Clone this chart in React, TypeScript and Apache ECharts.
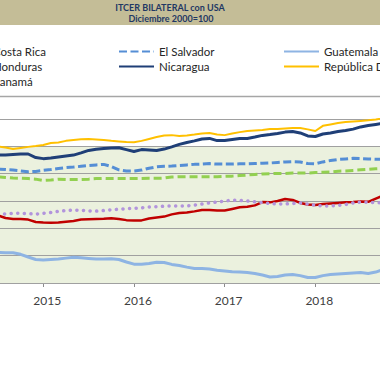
import React, { useEffect, useRef } from 'react';
import * as echarts from 'echarts';

// month index relative to January 2015 (0 = Jan 2015); data start in Jul 2014
const firstMonth = -6;

const costaRica = [94.7, 93.8, 93.4, 93.4, 93.2, 92.3, 92.1, 92.0, 92.1, 92.4, 92.7, 93.2, 93.3, 93.4, 93.5, 93.7, 93.4, 93.0, 92.9, 92.9, 93.6, 94.0, 94.3, 95.1, 95.6, 95.8, 96.2, 96.7, 96.7, 96.5, 96.5, 97.1, 97.7, 97.9, 98.4, 99.6, 99.5, 100.0, 100.7, 100.4, 99.3, 98.7, 98.5, 98.9, 99.1, 99.3, 99.5, 99.6, 99.8, 99.7, 100.9, 102.0];
const elSalvador = [111.7, 111.5, 111.3, 111.0, 110.7, 110.8, 111.2, 111.5, 111.9, 112.2, 112.4, 112.7, 113.0, 113.2, 113.4, 112.6, 111.4, 111.0, 111.0, 111.3, 112.0, 112.5, 112.7, 112.8, 113.0, 113.2, 113.4, 113.5, 113.7, 113.5, 113.5, 113.5, 113.6, 113.6, 113.7, 113.8, 113.9, 114.1, 114.3, 114.4, 114.3, 113.7, 113.6, 114.3, 114.8, 115.2, 115.4, 115.6, 115.5, 115.4, 115.3, 115.2];
const guatemala = [81.2, 81.1, 81.1, 80.5, 79.5, 78.6, 78.4, 78.6, 78.8, 79.1, 79.4, 79.2, 79.0, 78.8, 78.8, 78.9, 78.6, 77.7, 76.9, 76.9, 77.1, 77.6, 77.5, 76.8, 76.4, 75.8, 75.3, 75.3, 75.1, 74.7, 74.4, 74.1, 74.0, 73.8, 73.5, 72.9, 72.2, 72.4, 72.9, 73.1, 72.7, 72.0, 72.0, 72.7, 73.1, 73.3, 73.5, 73.7, 73.8, 73.5, 74.0, 74.9];
const honduras = [108.8, 108.6, 108.4, 108.3, 108.2, 108.0, 107.5, 107.7, 108.0, 107.9, 107.9, 107.9, 108.0, 108.2, 108.3, 108.2, 108.2, 108.2, 108.2, 108.2, 108.3, 108.3, 108.4, 108.8, 108.9, 108.9, 108.9, 108.9, 108.9, 108.9, 109.0, 109.1, 109.3, 109.5, 109.7, 109.9, 110.0, 110.1, 110.1, 110.2, 110.2, 110.2, 110.4, 110.5, 110.6, 110.9, 111.0, 111.2, 111.4, 111.6, 111.8, 111.9];
const nicaragua = [116.8, 116.8, 117.0, 117.2, 117.2, 115.9, 115.5, 115.7, 116.1, 116.5, 116.8, 117.6, 118.5, 118.9, 119.2, 119.4, 119.5, 118.8, 118.1, 118.8, 118.7, 118.5, 119.0, 119.8, 120.7, 121.4, 122.0, 122.7, 122.9, 122.1, 122.1, 122.5, 122.9, 122.9, 123.4, 124.0, 124.3, 124.7, 125.2, 125.4, 124.9, 123.8, 123.6, 124.5, 124.9, 125.4, 125.8, 126.3, 127.1, 127.6, 128.0, 128.4];
const repDominicana = [119.9, 119.6, 119.0, 119.4, 119.8, 120.1, 120.5, 121.2, 121.4, 122.0, 122.3, 122.6, 122.7, 122.5, 122.3, 122.0, 121.8, 121.6, 121.5, 122.0, 122.7, 123.4, 124.0, 124.1, 123.8, 124.0, 124.3, 124.7, 124.9, 124.3, 124.1, 124.7, 125.2, 125.6, 125.8, 126.0, 126.3, 126.3, 126.5, 126.7, 126.7, 126.2, 125.6, 127.5, 128.0, 128.5, 128.9, 129.1, 129.3, 129.5, 129.8, 130.3];
const panama = [95.2, 95.3, 95.5, 95.5, 95.4, 95.2, 95.5, 95.8, 96.2, 96.5, 96.7, 96.6, 96.4, 96.3, 96.5, 96.8, 97.0, 97.2, 97.3, 97.5, 97.8, 97.9, 98.1, 98.2, 98.2, 98.2, 98.5, 98.9, 99.3, 99.6, 100.0, 100.3, 100.2, 100.0, 99.7, 99.4, 99.1, 98.9, 98.9, 99.1, 99.3, 98.9, 98.4, 98.2, 98.2, 98.4, 98.7, 99.3, 99.6, 99.5, 99.4, 99.4];

const firstYear = 2015;
const titleLines = ['ITCER BILATERAL con USA', 'Diciembre 2000=100'];
const shadeRange = [70, 120];

const toPairs = (vals: number[]) => vals.map((v, i) => [firstMonth + i, v]);

export default function App() {
  const ref = useRef<HTMLDivElement>(null);
  useEffect(() => {
    if (!ref.current) return;
    const chart = echarts.init(ref.current, null, { renderer: 'svg' });
    const font = 'Lato';
    const mk = (name: string, data: number[], color: string, width: number, type: any = 'solid', cap: any = 'butt', extra: any = {}) => ({
      name,
      type: 'line',
      data: toPairs(data),
      symbol: 'none',
      showSymbol: false,
      z: 3,
      lineStyle: { color, width, type, cap },
      itemStyle: { color },
      ...extra,
    });
    const legendBase = {
      orient: 'vertical',
      top: 44,
      itemWidth: 35,
      itemHeight: 0.1,
      itemGap: 0,
      padding: 0,
      selectedMode: false,
      itemStyle: { opacity: 0 },
      textStyle: { fontFamily: font, fontSize: 11.5, color: '#262626', lineHeight: 15 },
    };
    chart.setOption({
      animation: false,
      backgroundColor: '#ffffff',
      graphic: [
        { type: 'rect', shape: { x: 0, y: 0, width: 380, height: 25 }, style: { fill: '#c4bd97' } },
        { type: 'text', x: 170, y: 7, style: { text: titleLines[0], font: `bold 9px ${font}`, fill: '#1f3864', align: 'center', verticalAlign: 'middle' } },
        { type: 'text', x: 171, y: 18.5, style: { text: titleLines[1], font: `bold 9px ${font}`, fill: '#1f3864', align: 'center', verticalAlign: 'middle' } },
        { type: 'line', shape: { x1: 0, y1: 96.5, x2: 380, y2: 96.5 }, style: { stroke: '#a6a6a6', lineWidth: 1.5 } },
      ],
      legend: [
        { ...legendBase, left: -48, data: ['Costa Rica', 'Honduras', 'Panamá'] },
        { ...legendBase, left: 118, data: ['El Salvador', 'Nicaragua'] },
        { ...legendBase, left: 283, data: ['Guatemala', 'República Dominicana'] },
      ],
      grid: { left: -47.4, right: -26, top: 119, bottom: 88, outerBoundsMode: 'none', containLabel: false },
      xAxis: {
        type: 'value',
        min: -12,
        max: 48,
        interval: 12,
        splitLine: { show: false },
        axisLine: { lineStyle: { color: '#8c8c8c', width: 1 } },
        axisTick: { length: 4, lineStyle: { color: '#8c8c8c' } },
        axisLabel: {
          formatter: (v: number) => String(firstYear + v / 12),
          showMinLabel: false,
          showMaxLabel: false,
          fontFamily: font,
          fontSize: 12,
          color: '#404040',
          margin: 11,
          padding: [0, 0, 0, 8],
        },
      },
      yAxis: {
        type: 'value',
        min: 70,
        max: 130,
        interval: 10,
        z: 2,
        axisLabel: { show: false },
        axisLine: { show: false },
        axisTick: { show: false },
        splitLine: { lineStyle: { color: '#a0a0a0', width: 1 } },
      },
      series: [
        mk('Costa Rica', costaRica, '#c00000', 2.5, 'solid', 'butt', {
          markArea: {
            silent: true,
            z: 1,
            itemStyle: { color: '#ebf1de' },
            data: [[{ yAxis: shadeRange[0] }, { yAxis: shadeRange[1] }]],
          },
        }),
        mk('El Salvador', elSalvador, '#558ed5', 3, [8, 3.5]),
        mk('Guatemala', guatemala, '#8eb4e3', 3),
        mk('Honduras', honduras, '#92d050', 3, [8, 4]),
        mk('Nicaragua', nicaragua, '#1f3f77', 3),
        mk('República Dominicana', repDominicana, '#ffc000', 2),
        mk('Panamá', panama, '#b294dc', 3.5, [0.1, 6.5], 'round'),
      ],
    });
    return () => chart.dispose();
  }, []);
  return <div ref={ref} style={{ position: 'absolute', left: 0, top: 0, width: 380, height: 371 }} />;
}
